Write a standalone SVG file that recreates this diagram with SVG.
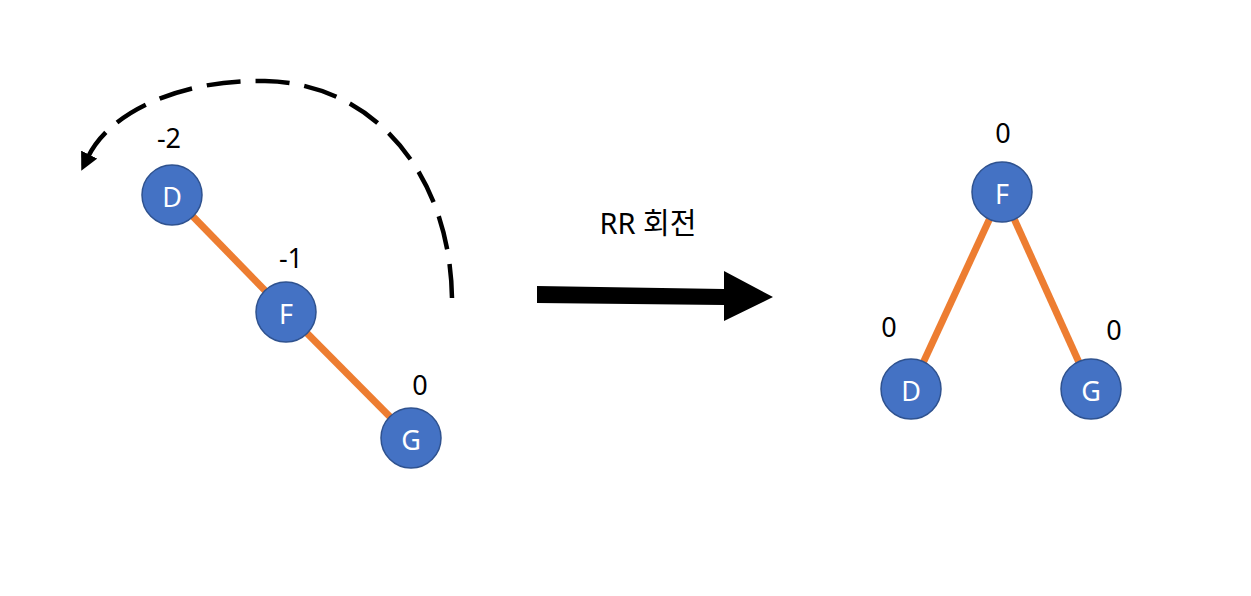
<svg xmlns="http://www.w3.org/2000/svg" width="1251" height="596" viewBox="0 0 1251 596">
<defs>
<style>
.node{fill:#4472C4;stroke:#2F528F;stroke-width:1.5}
.lbl{font-family:"Noto Sans","Open Sans","Noto Sans CJK KR",sans-serif;font-size:27px;fill:#fff;text-anchor:middle;dominant-baseline:central}
.num{font-family:"Noto Sans","Open Sans","Noto Sans CJK KR",sans-serif;font-size:27px;fill:#000;text-anchor:middle}
.edge{stroke:#ED7D31;stroke-width:7;fill:none}
</style>
<marker id="ah" markerWidth="4" markerHeight="4" refX="0.6" refY="2" orient="auto" markerUnits="strokeWidth">
<path d="M0,0 L4,2 L0,4 Z" fill="#000"/>
</marker>
</defs>
<rect width="1251" height="596" fill="#fff"/>
<g id="connectors">
<line class="edge" x1="172" y1="195" x2="286" y2="312"/>
<line class="edge" x1="286" y1="312" x2="411" y2="438"/>
<line class="edge" x1="1002" y1="192" x2="911" y2="389"/>
<line class="edge" x1="1002" y1="192" x2="1091" y2="389"/>
<path id="rotate-arc" d="M452,298 C450,172 372,83 265,81 C188,79 112,108 88,157" fill="none" stroke="#000" stroke-width="4.5" stroke-dasharray="34,15" marker-end="url(#ah)"/>
<polygon id="big-arrow" points="537,286 724,289 724,271 773,297 724,321 724,305 537,303" fill="#000"/>
</g>
<g id="node-D-left"><circle class="node" cx="172" cy="195" r="30"/><text class="lbl" x="172" y="196">D</text><text class="num" x="169" y="148">-2</text></g>
<g id="node-F-left"><circle class="node" cx="286" cy="312" r="30"/><text class="lbl" x="286" y="313">F</text><text class="num" x="291" y="268">-1</text></g>
<g id="node-G-left"><circle class="node" cx="411" cy="438" r="30"/><text class="lbl" x="411" y="439">G</text><text class="num" x="420" y="395">0</text></g>
<g id="label-rr"><text x="648" y="234" style="font-family:'Noto Sans','Noto Sans CJK KR',sans-serif;font-size:29px;fill:#000;text-anchor:middle">RR 회전</text></g>
<g id="node-F-right"><circle class="node" cx="1002" cy="192" r="30"/><text class="lbl" x="1002" y="193">F</text><text class="num" x="1003" y="143">0</text></g>
<g id="node-D-right"><circle class="node" cx="911" cy="389" r="30"/><text class="lbl" x="911" y="390">D</text><text class="num" x="889" y="337">0</text></g>
<g id="node-G-right"><circle class="node" cx="1091" cy="389" r="30"/><text class="lbl" x="1091" y="390">G</text><text class="num" x="1114" y="340">0</text></g>
</svg>
